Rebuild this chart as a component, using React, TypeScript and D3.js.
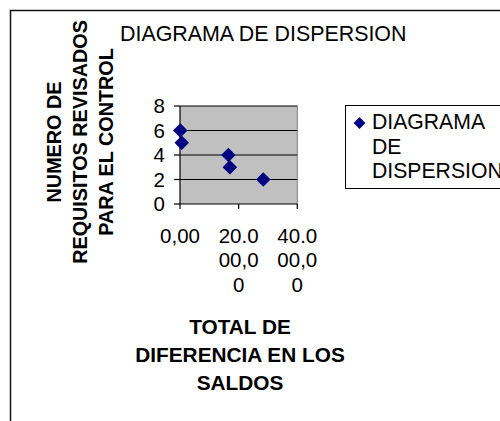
import React from 'react';
import * as d3 from 'd3';

const chartTitle = "DIAGRAMA DE DISPERSION";
const xValues = [100, 600, 16500, 17000, 28400];
const yValues = [6, 5, 4, 3, 2];
const xTicks = [0, 20000, 40000];
const xTickLabels = ["0,00", "20.000,00", "40.000,00"];
const yTicks = [0, 2, 4, 6, 8];
const yTitleLines = ["NUMERO DE", "REQUISITOS REVISADOS", "PARA EL CONTROL"];
const xTitleLines = ["TOTAL DE", "DIFERENCIA EN LOS", "SALDOS"];
const legendLines = ["DIAGRAMA", "DE", "DISPERSION"];

const FONT = "Arial, 'Liberation Sans', Helvetica, sans-serif";
const NAVY = "#000080";

function wrap(s: string, n: number): string[] {
  const out: string[] = [];
  for (let i = 0; i < s.length; i += n) out.push(s.slice(i, i + n));
  return out;
}

export default function App() {
  const W = 500, H = 421;
  const left = 180, right = 297.3, top = 106, bottom = 204;
  const x = d3.scaleLinear().domain([0, 40000]).range([left, right]);
  const y = d3.scaleLinear().domain([0, 8]).range([bottom, top]);
  const sym = d3.symbol().type(d3.symbolDiamond2).size(135)();
  const legSym = d3.symbol().type(d3.symbolDiamond2).size(90)();
  const pts = xValues.map((v, i) => ({ x: v, y: yValues[i] }));

  return (
    <svg width={W} height={H} style={{ position: 'absolute', left: 0, top: 0, background: '#fff' }} fontFamily={FONT}>
      <rect x={10.5} y={10.5} width={600} height={500} fill="#fff" stroke="#111" strokeWidth={1.5} />
      <text x={120} y={41} fontSize={21.4} fill="#000">{chartTitle}</text>

      {/* y title */}
      {yTitleLines.map((l, i) => (
        <text key={i} transform={`translate(${61 + i * 26},142) rotate(-90)`} textAnchor="middle"
          fontSize={19.8} fontWeight="bold" fill="#000">{l}</text>
      ))}

      {/* plot area */}
      <rect x={left} y={top} width={right - left} height={bottom - top} fill="#c0c0c0" />
      <line x1={right} x2={right} y1={top} y2={bottom} stroke="#808080" strokeWidth={1} />
      {yTicks.filter(t => t > 0).map(t => (
        <line key={t} x1={left} x2={right} y1={y(t)} y2={y(t)} stroke="#000" strokeWidth={1} />
      ))}
      <line x1={left} x2={left} y1={top} y2={bottom} stroke="#000" strokeWidth={1.2} />
      <line x1={left} x2={right} y1={bottom} y2={bottom} stroke="#000" strokeWidth={1.2} />
      {yTicks.map(t => (
        <g key={t}>
          <line x1={left - 6} x2={left} y1={y(t)} y2={y(t)} stroke="#000" strokeWidth={1.2} />
          <text x={165} y={y(t)} dy="0.35em" textAnchor="end" fontSize={20.5} fill="#000">{t}</text>
        </g>
      ))}
      {xTicks.map((t, i) => (
        <g key={t}>
          <line x1={x(t)} x2={x(t)} y1={bottom} y2={bottom + 5} stroke="#000" strokeWidth={1.2} />
          {wrap(xTickLabels[i], 4).map((s, j) => (
            <text key={j} x={x(t)} y={242.5 + j * 24.5} textAnchor="middle" fontSize={20.5} fill="#000">{s}</text>
          ))}
        </g>
      ))}
      {pts.map((p, i) => (
        <path key={i} d={sym} transform={`translate(${x(p.x)},${y(p.y)})`} fill={NAVY} />
      ))}

      {/* x title */}
      {xTitleLines.map((l, i) => (
        <text key={i} x={240} y={333.5 + i * 28.2} textAnchor="middle" fontSize={20.8} fontWeight="bold" fill="#000">{l}</text>
      ))}

      {/* legend */}
      <rect x={345.5} y={105.5} width={200} height={83} fill="#fff" stroke="#000" strokeWidth={1} />
      <path d={legSym} transform={`translate(359.5,123)`} fill={NAVY} />
      {legendLines.map((l, i) => (
        <text key={i} x={372} y={129 + i * 24.5} fontSize={21.2} fill="#000">{l}</text>
      ))}
    </svg>
  );
}
